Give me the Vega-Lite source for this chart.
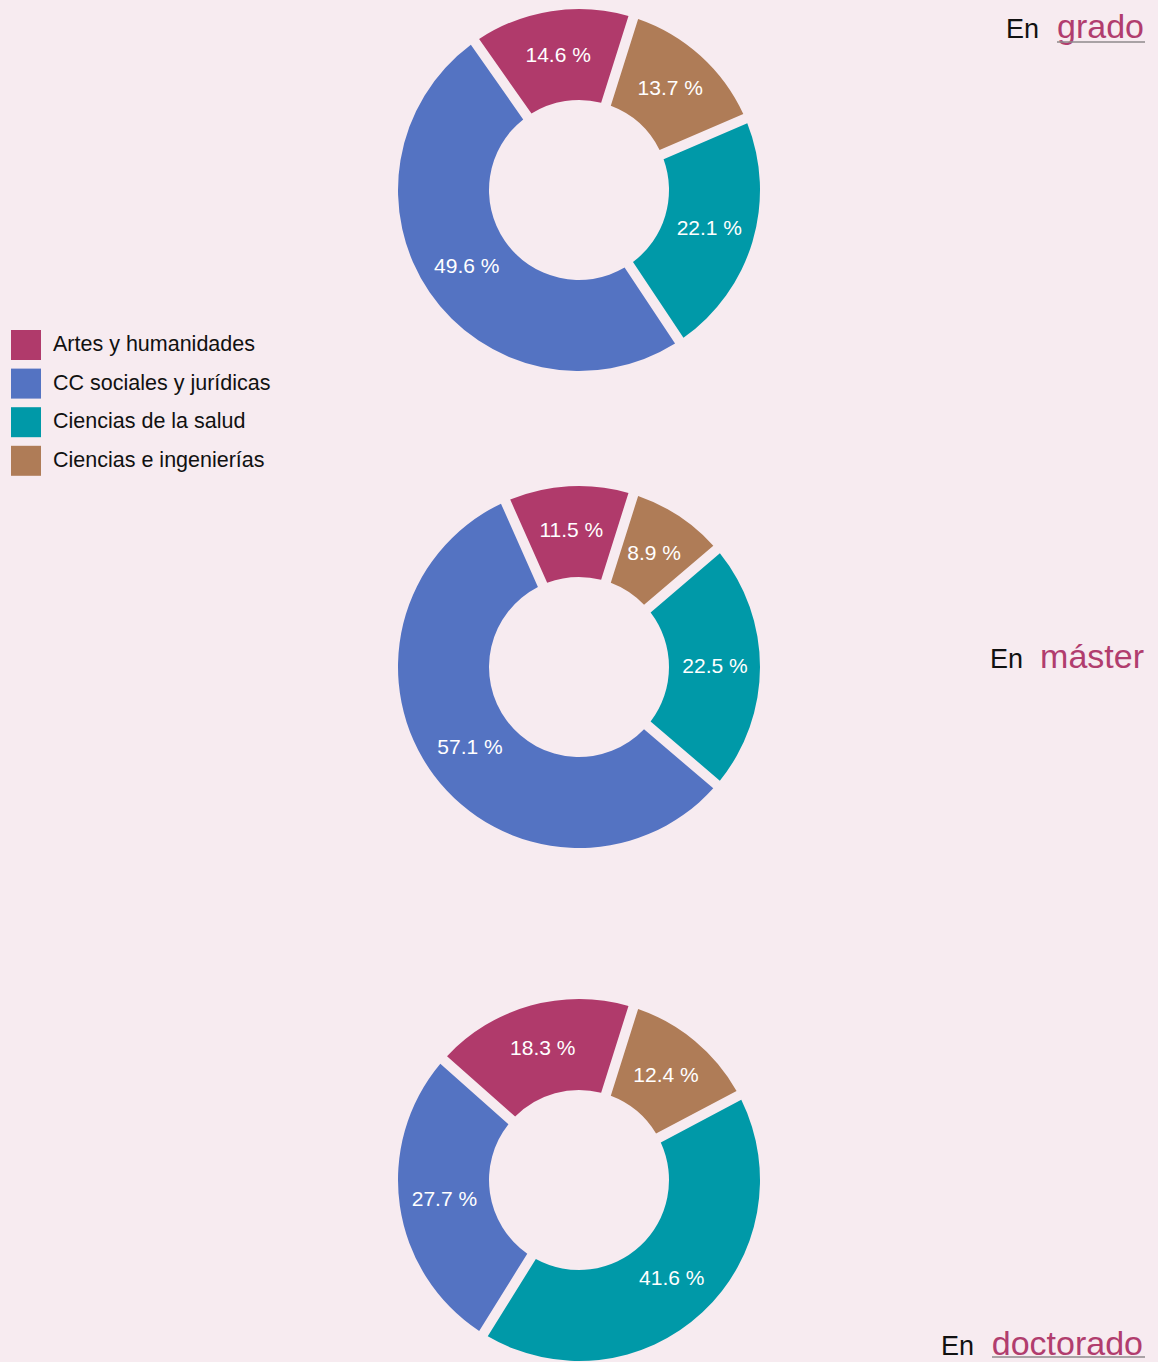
{
  "$schema": "https://vega.github.io/schema/vega-lite/v6.json",
  "background": "#f7ebf0",
  "padding": 0,
  "spacing": 0,
  "config": {
    "view": {"stroke": null},
    "font": "Liberation Sans",
    "legend": {
      "padding": 0,
      "symbolType": "square",
      "symbolSize": 900,
      "symbolStrokeWidth": 0,
      "symbolOpacity": 1,
      "labelFontSize": 21.5,
      "labelColor": "#111111",
      "labelOffset": 12,
      "labelLimit": 400,
      "rowPadding": 8.6
    }
  },
  "data": {
    "values": [
      {"nivel": "grado", "area": "Ciencias e ingenierías", "ord": 1, "pct": 13.7, "label": "13.7 %"},
      {"nivel": "grado", "area": "Ciencias de la salud", "ord": 2, "pct": 22.1, "label": "22.1 %"},
      {"nivel": "grado", "area": "CC sociales y jurídicas", "ord": 3, "pct": 49.6, "label": "49.6 %"},
      {"nivel": "grado", "area": "Artes y humanidades", "ord": 4, "pct": 14.6, "label": "14.6 %"},
      {"nivel": "master", "area": "Ciencias e ingenierías", "ord": 1, "pct": 8.9, "label": "8.9 %"},
      {"nivel": "master", "area": "Ciencias de la salud", "ord": 2, "pct": 22.5, "label": "22.5 %"},
      {"nivel": "master", "area": "CC sociales y jurídicas", "ord": 3, "pct": 57.1, "label": "57.1 %"},
      {"nivel": "master", "area": "Artes y humanidades", "ord": 4, "pct": 11.5, "label": "11.5 %"},
      {"nivel": "doctorado", "area": "Ciencias e ingenierías", "ord": 1, "pct": 12.4, "label": "12.4 %"},
      {"nivel": "doctorado", "area": "Ciencias de la salud", "ord": 2, "pct": 41.6, "label": "41.6 %"},
      {"nivel": "doctorado", "area": "CC sociales y jurídicas", "ord": 3, "pct": 27.7, "label": "27.7 %"},
      {"nivel": "doctorado", "area": "Artes y humanidades", "ord": 4, "pct": 18.3, "label": "18.3 %"}
    ]
  },
  "resolve": {"scale": {"color": "shared", "theta": "independent"}, "legend": {"color": "shared"}},
  "vconcat": [
    {
      "width": 1158,
      "height": 380,
      "layer": [
        {
          "transform": [{"filter": "datum.nivel == 'grado'"}],
          "mark": {"type": "arc", "innerRadius": 90, "outerRadius": 181, "padAngle": 0.05},
          "encoding": {
            "theta": {"field": "pct", "type": "quantitative", "stack": true, "scale": {"range": [0.305, 6.588]}},
            "order": {"field": "ord", "type": "quantitative"},
            "color": {
              "field": "area", "type": "nominal",
              "scale": {"domain": ["Artes y humanidades", "CC sociales y jurídicas", "Ciencias de la salud", "Ciencias e ingenierías"], "range": ["#b03a6b", "#5473c2", "#0099a8", "#af7c57"]},
              "legend": {"title": null, "orient": "none", "legendX": 11, "legendY": 330}
            }
          }
        },
        {
          "transform": [{"filter": "datum.nivel == 'grado'"}],
          "mark": {"type": "text", "radius": 136, "fontSize": 21, "color": "white"},
          "encoding": {
            "theta": {"field": "pct", "type": "quantitative", "stack": true},
            "order": {"field": "ord", "type": "quantitative"},
            "text": {"field": "label"}
          }
        },
        {
          "data": {"values": [{"w": "grado"}]},
          "mark": {"type": "text", "align": "right", "baseline": "alphabetic", "fontSize": 34, "color": "#b13d6e", "dx": -14},
          "encoding": {"x": {"value": "width"}, "y": {"value": 38}, "text": {"field": "w"}}
        },
        {
          "data": {"values": [{"w": "En"}]},
          "mark": {"type": "text", "align": "right", "baseline": "alphabetic", "fontSize": 27, "color": "#111111", "dx": -119},
          "encoding": {"x": {"value": "width"}, "y": {"value": 38}, "text": {"field": "w"}}
        },
        {
          "data": {"values": [{"w": "grado"}]},
          "mark": {"type": "rule", "color": "#8f8a8d", "strokeWidth": 1.5},
          "encoding": {"x": {"value": 1057}, "x2": {"value": 1145}, "y": {"value": 42}}
        }
      ]
    },
    {
      "spacing": 44,
      "resolve": {"scale": {"color": "shared", "theta": "independent"}, "legend": {"color": "shared"}},
      "vconcat": [
        {
          "width": 1158,
          "height": 574,
          "layer": [
            {
              "transform": [{"filter": "datum.nivel == 'master'"}],
              "mark": {"type": "arc", "innerRadius": 90, "outerRadius": 181, "padAngle": 0.05},
              "encoding": {
                "theta": {"field": "pct", "type": "quantitative", "stack": true, "scale": {"range": [0.305, 6.588]}},
                "order": {"field": "ord", "type": "quantitative"},
                "color": {"field": "area", "type": "nominal"}
              }
            },
            {
              "transform": [{"filter": "datum.nivel == 'master'"}],
              "mark": {"type": "text", "radius": 136, "fontSize": 21, "color": "white"},
              "encoding": {
                "theta": {"field": "pct", "type": "quantitative", "stack": true},
                "order": {"field": "ord", "type": "quantitative"},
                "text": {"field": "label"}
              }
            },
            {
              "data": {"values": [{"w": "máster"}]},
              "mark": {"type": "text", "align": "right", "baseline": "alphabetic", "fontSize": 34, "color": "#b13d6e", "dx": -14},
              "encoding": {"x": {"value": "width"}, "y": {"value": 288}, "text": {"field": "w"}}
            },
            {
              "data": {"values": [{"w": "En"}]},
              "mark": {"type": "text", "align": "right", "baseline": "alphabetic", "fontSize": 27, "color": "#111111", "dx": -135},
              "encoding": {"x": {"value": "width"}, "y": {"value": 288}, "text": {"field": "w"}}
            }
          ]
        },
        {
          "width": 1158,
          "height": 364,
          "layer": [
            {
              "transform": [{"filter": "datum.nivel == 'doctorado'"}],
              "mark": {"type": "arc", "innerRadius": 90, "outerRadius": 181, "padAngle": 0.05},
              "encoding": {
                "theta": {"field": "pct", "type": "quantitative", "stack": true, "scale": {"range": [0.305, 6.588]}},
                "order": {"field": "ord", "type": "quantitative"},
                "color": {"field": "area", "type": "nominal"}
              }
            },
            {
              "transform": [{"filter": "datum.nivel == 'doctorado'"}],
              "mark": {"type": "text", "radius": 136, "fontSize": 21, "color": "white"},
              "encoding": {
                "theta": {"field": "pct", "type": "quantitative", "stack": true},
                "order": {"field": "ord", "type": "quantitative"},
                "text": {"field": "label"}
              }
            },
            {
              "data": {"values": [{"w": "doctorado"}]},
              "mark": {"type": "text", "align": "right", "baseline": "alphabetic", "fontSize": 34, "color": "#b13d6e", "dx": -15},
              "encoding": {"x": {"value": "width"}, "y": {"value": 357}, "text": {"field": "w"}}
            },
            {
              "data": {"values": [{"w": "En"}]},
              "mark": {"type": "text", "align": "right", "baseline": "alphabetic", "fontSize": 27, "color": "#111111", "dx": -184},
              "encoding": {"x": {"value": "width"}, "y": {"value": 357}, "text": {"field": "w"}}
            },
            {
              "data": {"values": [{"w": "doctorado"}]},
              "mark": {"type": "rule", "color": "#8f8a8d", "strokeWidth": 1.5},
              "encoding": {"x": {"value": 992}, "x2": {"value": 1145}, "y": {"value": 359}}
            }
          ]
        }
      ]
    }
  ]
}
